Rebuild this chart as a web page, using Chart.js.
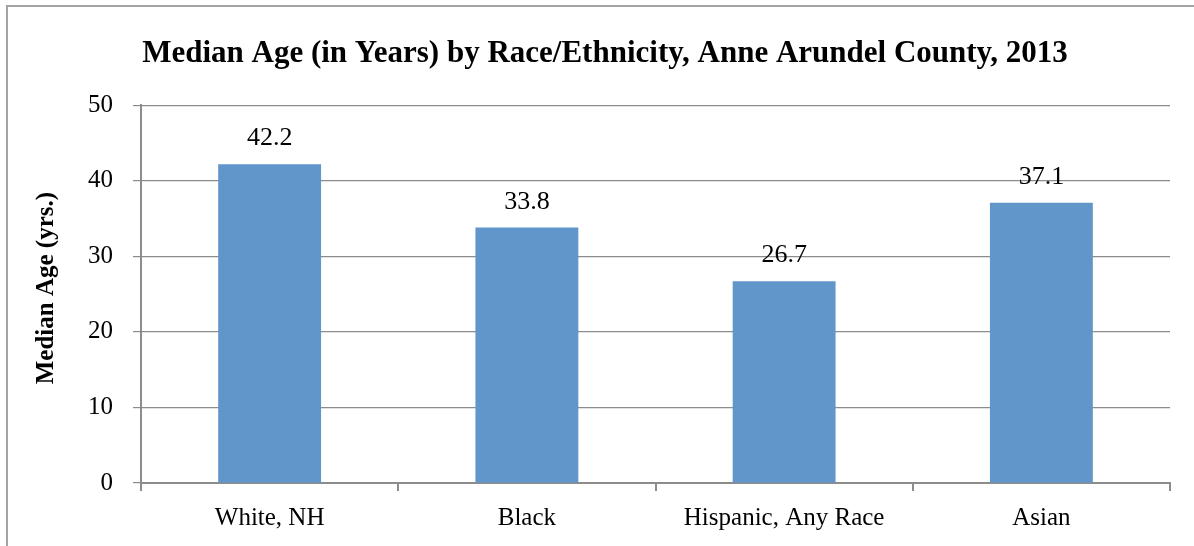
<!DOCTYPE html>
<html>
<head>
<meta charset="utf-8">
<script src="https://cdn.jsdelivr.net/npm/chart.js@4/dist/chart.umd.min.js"></script>
<style>
  html, body { margin: 0; padding: 0; background: #fff; }
  #wrap { position: relative; width: 1194px; height: 546px; overflow: hidden; background: #fff; }
  #frame { position: absolute; left: 6px; top: 5px; width: 1300px; height: 700px;
           border-left: 2px solid #a3a3a3; border-top: 2px solid #a3a3a3; }
  canvas { position: absolute; left: 0; top: 0; }
</style>
</head>
<body>
<div id="wrap">
  <div id="frame"></div>
  <canvas id="c" width="1194" height="546"></canvas>
</div>
<script>
// Median age by race/ethnicity, Anne Arundel County, 2013
const categories = ['White, NH', 'Black', 'Hispanic, Any Race', 'Asian'];
const medianAge = [42.2, 33.8, 26.7, 37.1];
const yTickValues = [0, 10, 20, 30, 40, 50];

const chartTitle = 'Median Age (in Years) by Race/Ethnicity, Anne Arundel County, 2013';
const yAxisTitle = 'Median Age (yrs.)';

const SERIF = '"Liberation Serif", "Times New Roman", serif';
const GRID = '#8c8c8c';

// Writes each bar's value above it
const barValueLabels = {
  id: 'barValueLabels',
  afterDatasetsDraw(chart) {
    const ctx = chart.ctx;
    const meta = chart.getDatasetMeta(0);
    const values = chart.data.datasets[0].data;
    ctx.save();
    ctx.font = '26px ' + SERIF;
    ctx.fillStyle = '#000';
    ctx.textAlign = 'center';
    ctx.textBaseline = 'alphabetic';
    meta.data.forEach((bar, i) => {
      ctx.fillText(values[i].toFixed(1), bar.x, bar.y - 19);
    });
    ctx.restore();
  }
};

// Rotated value-axis title, placed in the left margin beside the plot
const valueAxisTitle = {
  id: 'valueAxisTitle',
  afterDraw(chart) {
    const ctx = chart.ctx;
    const area = chart.chartArea;
    ctx.save();
    ctx.translate(47, (area.top + area.bottom) / 2 - 6);
    ctx.rotate(-Math.PI / 2);
    ctx.font = 'bold 25px ' + SERIF;
    ctx.fillStyle = '#000';
    ctx.textAlign = 'center';
    ctx.textBaseline = 'middle';
    ctx.fillText(yAxisTitle, 0, 0);
    ctx.restore();
  }
};

new Chart(document.getElementById('c'), {
  type: 'bar',
  data: {
    labels: categories,
    datasets: [{
      data: medianAge,
      backgroundColor: '#6096c9',
      borderWidth: 0,
      categoryPercentage: 1.0,
      barPercentage: 0.4
    }]
  },
  options: {
    responsive: false,
    animation: false,
    devicePixelRatio: 1,
    layout: { padding: { left: 40, right: 24, top: 0, bottom: 0 } },
    plugins: {
      legend: { display: false },
      tooltip: { enabled: false },
      title: {
        display: true,
        text: chartTitle,
        color: '#000',
        font: { family: SERIF, size: 31, weight: 'bold', lineHeight: 1.2 },
        padding: { top: 35, bottom: 33 }
      }
    },
    scales: {
      x: {
        grid: {
          display: true,
          drawOnChartArea: false,
          drawTicks: true,
          tickLength: 8,
          offset: true,
          color: GRID,
          lineWidth: 2
        },
        border: { display: true, color: GRID, width: 2 },
        ticks: {
          color: '#000',
          font: { family: SERIF, size: 25 },
          padding: 12,
          maxRotation: 0,
          autoSkip: false
        },
        afterFit(scale) { scale.height = 63; }
      },
      y: {
        min: 0,
        max: 50,
        afterBuildTicks(scale) {
          scale.ticks = yTickValues.map(v => ({ value: v }));
        },
        grid: {
          color: GRID,
          lineWidth: 1.2,
          drawTicks: true,
          tickLength: 8
        },
        border: { display: true, color: GRID, width: 2 },
        ticks: {
          color: '#000',
          font: { family: SERIF, size: 25 },
          padding: 20
        },
        afterFit(scale) { scale.width = 101; }
      }
    }
  },
  plugins: [barValueLabels, valueAxisTitle]
});
</script>
</body>
</html>
